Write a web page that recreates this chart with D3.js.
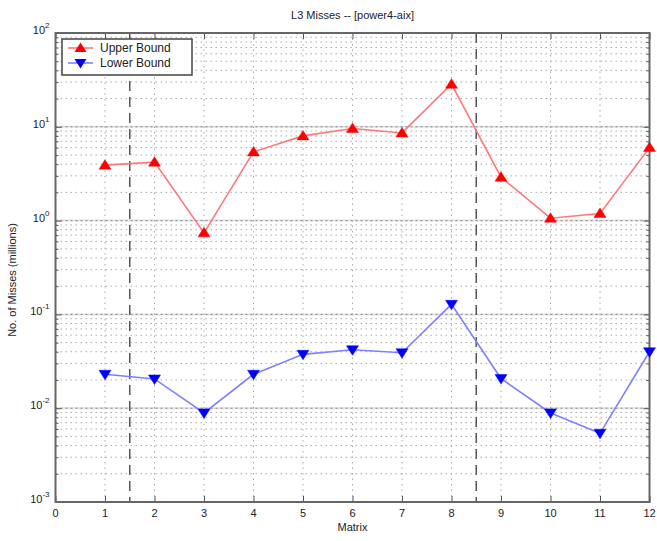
<!DOCTYPE html>
<html>
<head>
<meta charset="utf-8">
<script src="https://cdn.jsdelivr.net/npm/d3@7"></script>
<style>
  body { margin: 0; background: #fff; }
  text { font-family: "Liberation Sans", Arial, sans-serif; fill: #222; }
</style>
</head>
<body>
<div id="chart"></div>
<script>
// data
let matrices = [1, 2, 3, 4, 5, 6, 7, 8, 9, 10, 11, 12]
let upperBound = [3.9, 4.2, 0.74, 5.4, 8.0, 9.6, 8.6, 28.5, 2.9, 1.06, 1.19, 6.0]
let lowerBound = [0.023, 0.0205, 0.0089, 0.023, 0.0375, 0.042, 0.039, 0.128, 0.0207, 0.0089, 0.0054, 0.040]
let separators = [1.5, 8.5]
let xTickValues = [0, 1, 2, 3, 4, 5, 6, 7, 8, 9, 10, 11, 12]
let yExponents = [-3, -2, -1, 0, 1, 2]

let width = 657
let height = 541
let plotL = 55.5, plotR = 649.5, plotT = 33, plotB = 502

let svg = d3.select('#chart').append('svg').attr('width', width).attr('height', height)

let x = d3.scaleLinear().domain([0, 12]).range([plotL, plotR])
let y = d3.scaleLog().domain([1e-3, 1e2]).range([plotB, plotT])

// minor values for log grid
let minorVals = []
yExponents.slice(0, -1).forEach(e => {
  for (let k = 2; k <= 9; k++) minorVals.push(k * Math.pow(10, e))
})
let majorVals = yExponents.map(e => Math.pow(10, e))

// grid
let grid = svg.append('g').attr('class', 'grid')
grid.selectAll('.hband').data(majorVals).enter().append('line')
  .attr('x1', plotL).attr('x2', plotR)
  .attr('y1', d => y(d)).attr('y2', d => y(d))
  .attr('stroke', '#e2e2e2').attr('stroke-width', 2)
grid.selectAll('.hminor').data(minorVals).enter().append('line')
  .attr('x1', plotL).attr('x2', plotR)
  .attr('y1', d => y(d)).attr('y2', d => y(d))
  .attr('stroke', '#aaa').attr('stroke-width', 1).attr('stroke-dasharray', '1.5,3.5')
grid.selectAll('.hmajor').data(majorVals).enter().append('line')
  .attr('x1', plotL).attr('x2', plotR)
  .attr('y1', d => y(d)).attr('y2', d => y(d))
  .attr('stroke', '#888').attr('stroke-width', 1).attr('stroke-dasharray', '2,3')
grid.selectAll('.vgrid').data(xTickValues.slice(1, -1)).enter().append('line')
  .attr('x1', d => x(d)).attr('x2', d => x(d))
  .attr('y1', plotT).attr('y2', plotB)
  .attr('stroke', '#aaa').attr('stroke-width', 1).attr('stroke-dasharray', '1.5,4')

// separators
svg.selectAll('.sep').data(separators).enter().append('line')
  .attr('x1', d => x(d)).attr('x2', d => x(d))
  .attr('y1', plotT).attr('y2', plotB)
  .attr('stroke', '#555').attr('stroke-width', 1.5).attr('stroke-dasharray', '10,6')

// axes (ticks inside, on all four sides)
svg.append('g').attr('transform', 'translate(' + plotL + ',0)')
  .call(d3.axisRight(y).tickValues(minorVals).tickSize(3).tickFormat(''))
svg.append('g').attr('transform', 'translate(' + plotL + ',0)')
  .call(d3.axisRight(y).tickValues(majorVals).tickSize(6).tickFormat(''))
svg.append('g').attr('transform', 'translate(' + plotR + ',0)')
  .call(d3.axisLeft(y).tickValues(minorVals).tickSize(3).tickFormat(''))
svg.append('g').attr('transform', 'translate(' + plotR + ',0)')
  .call(d3.axisLeft(y).tickValues(majorVals).tickSize(6).tickFormat(''))
svg.append('g').attr('transform', 'translate(0,' + plotB + ')')
  .call(d3.axisTop(x).tickValues(xTickValues).tickSize(6).tickFormat(''))
svg.append('g').attr('transform', 'translate(0,' + plotT + ')')
  .call(d3.axisBottom(x).tickValues(xTickValues).tickSize(6).tickFormat(''))
svg.selectAll('.domain').remove()
svg.selectAll('.tick line').attr('stroke', '#555')

// box
svg.append('rect').attr('x', plotL).attr('y', plotT)
  .attr('width', plotR - plotL).attr('height', plotB - plotT)
  .attr('fill', 'none').attr('stroke', '#666').attr('stroke-width', 2)

// y tick labels 10^n
yExponents.forEach(e => {
  let t = svg.append('text').attr('x', plotL - 6).attr('y', y(Math.pow(10, e)) + 1)
    .attr('text-anchor', 'end').attr('font-size', 11).attr('fill', '#333')
  t.append('tspan').text('10')
  t.append('tspan').attr('dy', -6).attr('font-size', 8).text(e)
})

// x tick labels
svg.selectAll('.xlab').data(xTickValues).enter().append('text')
  .attr('x', d => x(d)).attr('y', plotB + 15)
  .attr('text-anchor', 'middle').attr('font-size', 11).attr('fill', '#333')
  .text(d => d)

// titles
svg.append('text').attr('x', (plotL + plotR) / 2).attr('y', 19)
  .attr('text-anchor', 'middle').attr('font-size', 11).text('L3 Misses -- [power4-aix]')
svg.append('text').attr('x', (plotL + plotR) / 2).attr('y', 531)
  .attr('text-anchor', 'middle').attr('font-size', 11).text('Matrix')
svg.append('text').attr('transform', 'translate(16,' + 280 + ') rotate(-90)')
  .attr('text-anchor', 'middle').attr('font-size', 11).text('No. of Misses (millions)')

// series
let series = [
  { name: 'Upper Bound', values: upperBound, line: '#ff7878', mark: '#ff0000', up: true },
  { name: 'Lower Bound', values: lowerBound, line: '#8080ff', mark: '#0000ff', up: false }
]
let line = d3.line().x(d => x(d[0])).y(d => y(d[1]))
let triUp = 'M0,-5.5L6,4L-6,4Z'
let triDown = 'M0,5.5L6,-4L-6,-4Z'

series.forEach(s => {
  let pts = matrices.map((m, i) => [m, s.values[i]])
  svg.append('path').datum(pts).attr('d', line)
    .attr('fill', 'none').attr('stroke', s.line).attr('stroke-width', 1.6)
  svg.append('g').selectAll('path').data(pts).enter().append('path')
    .attr('d', s.up ? triUp : triDown)
    .attr('transform', d => 'translate(' + x(d[0]) + ',' + y(d[1]) + ')')
    .attr('fill', s.mark).attr('stroke', s.mark).attr('stroke-width', 0.5)
})

// legend
let lg = svg.append('g')
lg.append('rect').attr('x', 62).attr('y', 39).attr('width', 130).attr('height', 36)
  .attr('fill', '#fff').attr('stroke', '#444').attr('stroke-width', 1.5)
series.forEach((s, i) => {
  let ly = 48 + i * 15
  lg.append('line').attr('x1', 68).attr('x2', 93).attr('y1', ly).attr('y2', ly)
    .attr('stroke', s.line).attr('stroke-width', 1.6)
  lg.append('path').attr('d', s.up ? triUp : triDown)
    .attr('transform', 'translate(80.5,' + ly + ')').attr('fill', s.mark)
  lg.append('text').attr('x', 100).attr('y', ly + 4).attr('font-size', 12)
    .attr('fill', '#444').text(s.name)
})
</script>
</body>
</html>
